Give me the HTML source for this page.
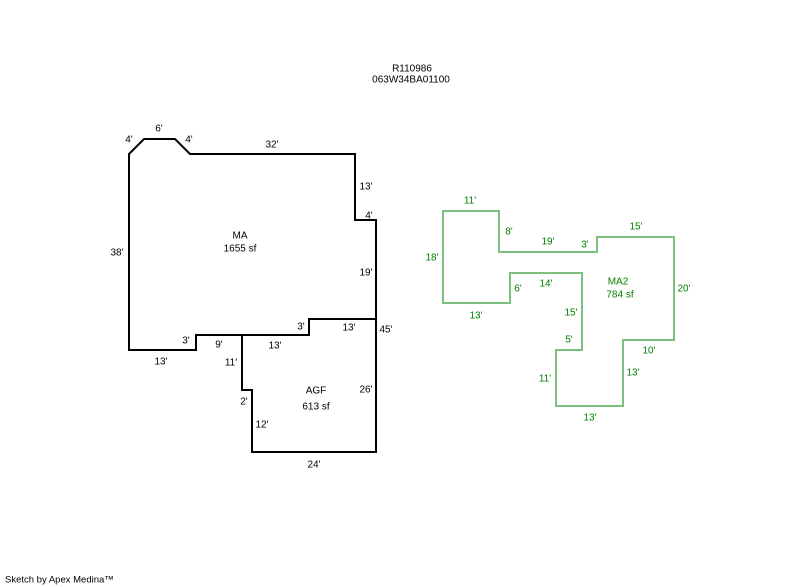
<!DOCTYPE html>
<html><head><meta charset="utf-8"><style>
html,body{margin:0;padding:0;background:#fff;}
svg{display:block;}
text{font-family:"Liberation Sans",Arial,sans-serif;font-size:10px;dominant-baseline:central;text-anchor:middle;}
.k{fill:#000;}
.g{fill:#008000;}
</style></head><body>
<svg width="800" height="587" viewBox="0 0 800 587" xmlns="http://www.w3.org/2000/svg">
<rect width="800" height="587" fill="#fff"/>
<text class="k" x="412" y="69">R110986</text>
<text class="k" x="411" y="80">063W34BA01100</text>

<g fill="none" stroke="#000" stroke-width="2">
<polygon points="129,154 144,139 175,139 190,154 355,154 355,220 376,220 376,319 309,319 309,335 196,335 196,350 129,350"/>
<polyline points="242,335 242,390 252,390 252,452 376,452 376,319"/>
</g>
<g class="k">
<text x="129" y="140">4'</text>
<text x="159" y="129">6'</text>
<text x="189" y="140">4'</text>
<text x="272" y="145">32'</text>
<text x="366" y="187">13'</text>
<text x="369" y="216">4'</text>
<text x="240" y="236">MA</text>
<text x="240" y="249">1655 sf</text>
<text x="117" y="253">38'</text>
<text x="366" y="273">19'</text>
<text x="301" y="327">3'</text>
<text x="349" y="328">13'</text>
<text x="386" y="330">45'</text>
<text x="186" y="341">3'</text>
<text x="219" y="345">9'</text>
<text x="275" y="346">13'</text>
<text x="161" y="362">13'</text>
<text x="231" y="363">11'</text>
<text x="316" y="391">AGF</text>
<text x="366" y="390">26'</text>
<text x="316" y="407">613 sf</text>
<text x="244" y="402">2'</text>
<text x="262" y="425">12'</text>
<text x="314" y="465">24'</text>
</g>

<polygon fill="none" stroke="#7dbf7d" stroke-width="2" points="443,211 499,211 499,252 597,252 597,237 674,237 674,340 623,340 623,406 556,406 556,350 582,350 582,273 510,273 510,303 443,303"/>
<g class="g">
<text x="470" y="201">11'</text>
<text x="509" y="232">8'</text>
<text x="548" y="242">19'</text>
<text x="585" y="245">3'</text>
<text x="636" y="227">15'</text>
<text x="432" y="258">18'</text>
<text x="618" y="282">MA2</text>
<text x="620" y="295">784 sf</text>
<text x="546" y="284">14'</text>
<text x="518" y="289">6'</text>
<text x="684" y="289">20'</text>
<text x="476" y="316">13'</text>
<text x="571" y="313">15'</text>
<text x="569" y="340">5'</text>
<text x="649" y="351">10'</text>
<text x="545" y="379">11'</text>
<text x="633" y="373">13'</text>
<text x="590" y="418">13'</text>
</g>

<text class="k" x="5" y="580" style="text-anchor:start;font-size:9.5px">Sketch by Apex Medina™</text>
</svg>
</body></html>
